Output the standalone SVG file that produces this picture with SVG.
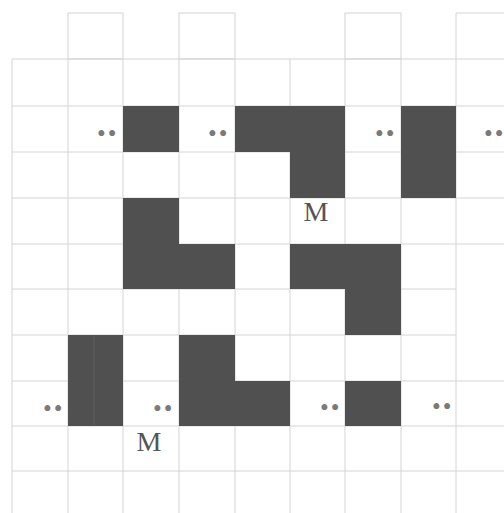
<svg xmlns="http://www.w3.org/2000/svg" width="504" height="513" viewBox="0 0 504 513">
<style>
.g{stroke:#d4d4d4;stroke-width:1;fill:none}
.k{fill:#505050}
.d{font-family:"Liberation Serif",serif;font-size:25px;fill:#7a7a7a;letter-spacing:2px}
.m{font-family:"Liberation Serif",serif;font-size:28px;fill:#555;text-anchor:middle}
</style>
<rect width="504" height="513" fill="#fff"/>
<g id="grid" class="g">
<rect x="68" y="13" width="55" height="46"/>
<rect x="179" y="13" width="56" height="46"/>
<rect x="345" y="13" width="56" height="46"/>
<path d="M456 13H504M456 13V59"/>
<path d="M12 59H504M12 106H504M12 152H504M12 198H504M12 244H504M12 289H456M12 335H456M12 381H504M12 426H504M12 471H504"/>
<path d="M12 59V513M68 59V513M123 59V513M179 59V513M235 59V513M290 59V513M345 59V513M401 59V513M456 59V513"/>
</g>
<g id="cell-a"><rect class="k" x="123" y="106" width="56" height="46"/></g>
<g id="cell-b"><path class="k" d="M235 106H345V198H290V152H235Z"/></g>
<g id="cell-c"><rect class="k" x="401" y="106" width="55" height="92"/></g>
<g id="cell-d"><path class="k" d="M123 198H179V244H235V289H123Z"/></g>
<g id="cell-e"><path class="k" d="M290 244H401V335H345V289H290Z"/></g>
<g id="cell-f"><rect class="k" x="68" y="335" width="55" height="91"/><path d="M94 336V425" stroke="#585858" stroke-width="2"/></g>
<g id="cell-g"><path class="k" d="M179 335H235V381H290V426H179Z"/></g>
<g id="cell-h"><rect class="k" x="345" y="381" width="56" height="45"/></g>
<g id="dots">
<text class="d" x="97" y="142">••</text>
<text class="d" x="208" y="142">••</text>
<text class="d" x="375" y="142">••</text>
<text class="d" x="484" y="142">••</text>
<text class="d" x="43" y="417">••</text>
<text class="d" x="153" y="417">••</text>
<text class="d" x="320" y="416">••</text>
<text class="d" x="432" y="415">••</text>
</g>
<g id="labels">
<text class="m" x="316" y="221">M</text>
<text class="m" x="149" y="451">M</text>
</g>
</svg>
